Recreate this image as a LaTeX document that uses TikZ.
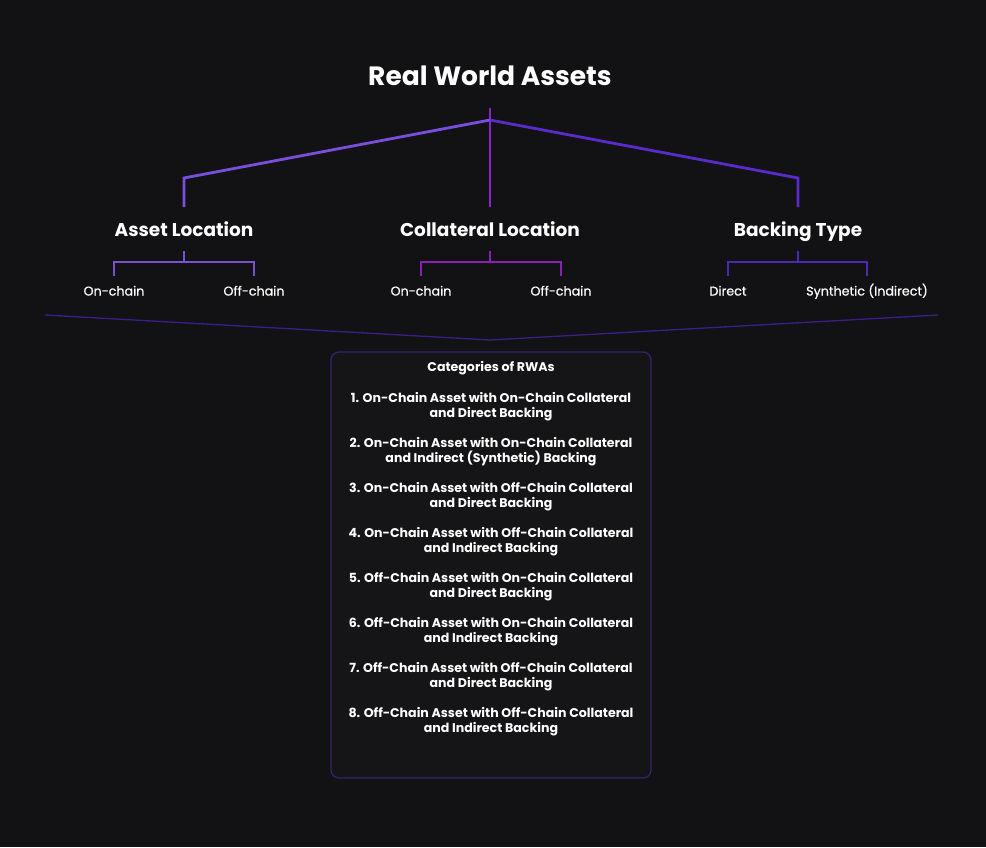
\documentclass[tikz,border=0pt]{standalone}
\usepackage{fontspec}
\setmainfont{Poppins}
\newfontfamily\medfont{Poppins}[FakeBold=0.6]
\definecolor{bg}{HTML}{121113}
\definecolor{boxfill}{HTML}{151416}
\definecolor{lineL}{HTML}{7A4EDC}
\definecolor{lineC}{HTML}{8C22CC}
\definecolor{lineR}{HTML}{5A2BCB}
\definecolor{subL}{HTML}{7852D2}
\definecolor{subC}{HTML}{8A20B8}
\definecolor{subR}{HTML}{4E2AB2}
\definecolor{vline}{HTML}{3A1E8A}
\definecolor{boxborder}{HTML}{38226E}
\tikzset{
  titletext/.style={text=white, font=\fontsize{26.5}{30}\selectfont\bfseries, inner sep=0pt, anchor=base},
  headtext/.style={text=white, font=\fontsize{18.5}{22}\selectfont\bfseries, inner sep=0pt, anchor=base},
  subtext/.style={text=white, font=\fontsize{12.7}{16}\medfont, inner sep=0pt, anchor=base},
  boxtext/.style={text=white, font=\fontsize{12.6}{15}\selectfont\bfseries, align=center, inner sep=0pt},
  conn/.style={line width=2.8pt},
  subconn/.style={line width=1.9pt},
}
\begin{document}
\begin{tikzpicture}[x=1pt,y=-1pt]
\fill[bg] (0,0) rectangle (986,847);
\useasboundingbox (0,0) rectangle (986,847);
% title
\node[titletext] (title) at (490,85.5) {Real World Assets};
% top tree
\coordinate (top) at (490,108);
\coordinate (apex) at (490,120);
\coordinate (lk) at (184,178);
\coordinate (rk) at (798,178);
\node[headtext] (hA) at (184,236.5) {Asset Location};
\node[headtext] (hC) at (490,236.5) {Collateral Location};
\node[headtext] (hB) at (798,236.5) {Backing Type};
\coordinate (hAt) at (184,207);
\coordinate (hCt) at (490,207);
\coordinate (hBt) at (798,207);
\draw[conn, lineC] (top) -- (hCt);
\draw[conn, lineL, line join=miter] (apex) -- (lk) -- (hAt);
\draw[conn, lineR, line join=miter] (apex) -- (rk) -- (hBt);
% sub labels
\node[subtext] (a1) at (114,295.5) {On-chain};
\node[subtext] (a2) at (254,295.5) {Off-chain};
\node[subtext] (c1) at (421,295.5) {On-chain};
\node[subtext] (c2) at (561,295.5) {Off-chain};
\node[subtext] (b1) at (728,295.5) {Direct};
\node[subtext] (b2) at (867,295.5) {Synthetic (Indirect)};
% sub brackets
\draw[subconn, subL] (184,251) -- (184,262);
\draw[subconn, subL, line join=miter] (114,276) -- (114,262) -- (254,262) -- (254,276);
\draw[subconn, subC] (490,251) -- (490,262);
\draw[subconn, subC, line join=miter] (421,276) -- (421,262) -- (561,262) -- (561,276);
\draw[subconn, subR] (798,251) -- (798,262);
\draw[subconn, subR, line join=miter] (728,276) -- (728,262) -- (867,262) -- (867,276);
% V line
\coordinate (vl) at (45,315);
\coordinate (vm) at (490,340);
\coordinate (vr) at (938,315);
\draw[vline, line width=1.3pt] (vl) -- (vm) -- (vr);
% box
\node[draw=boxborder, fill=boxfill, line width=1.3pt, rounded corners=8pt, minimum width=320pt, minimum height=426pt, inner sep=0pt] (box) at (491,565) {};
\node[boxtext] (cat) at (491,368) {Categories of RWAs};
\node[boxtext] (i1) at (491,406.5) {1. On-Chain Asset with On-Chain Collateral\\and Direct Backing};
\node[boxtext] (i2) at (491,451.5) {2. On-Chain Asset with On-Chain Collateral\\and Indirect (Synthetic) Backing};
\node[boxtext] (i3) at (491,496.5) {3. On-Chain Asset with Off-Chain Collateral\\and Direct Backing};
\node[boxtext] (i4) at (491,541.5) {4. On-Chain Asset with Off-Chain Collateral\\and Indirect Backing};
\node[boxtext] (i5) at (491,586.5) {5. Off-Chain Asset with On-Chain Collateral\\and Direct Backing};
\node[boxtext] (i6) at (491,631.5) {6. Off-Chain Asset with On-Chain Collateral\\and Indirect Backing};
\node[boxtext] (i7) at (491,676.5) {7. Off-Chain Asset with Off-Chain Collateral\\and Direct Backing};
\node[boxtext] (i8) at (491,721.5) {8. Off-Chain Asset with Off-Chain Collateral\\and Indirect Backing};
\end{tikzpicture}
\end{document}
